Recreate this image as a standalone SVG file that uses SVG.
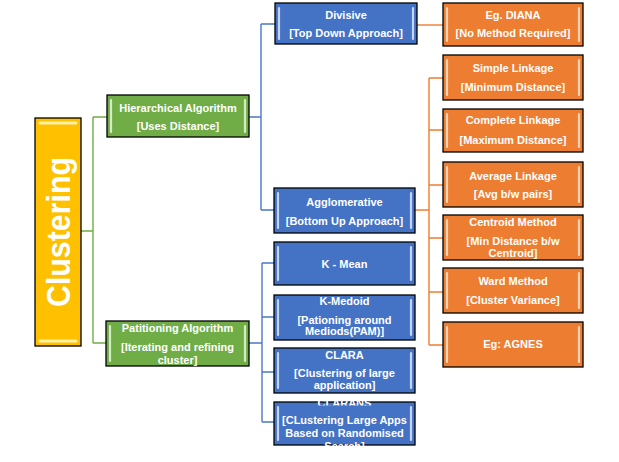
<svg xmlns="http://www.w3.org/2000/svg" width="619" height="462" viewBox="0 0 619 462">
<style>
.box{stroke:#000;stroke-width:1.3}
.blue{fill:#4472C4}
.orange{fill:#ED7D31}
.green{fill:#70AD47}
.gold{fill:#FFC000}
.hb{stroke:#C5D4F0;stroke-width:2.2;stroke-linecap:round;fill:none}
.ho{stroke:#FBD3B5;stroke-width:2.2;stroke-linecap:round;fill:none}
.hg{stroke:#D7EAC6;stroke-width:2.2;stroke-linecap:round;fill:none}
.hy{stroke:#FFF0A8;stroke-width:3;stroke-linecap:round;fill:none}
text{font-family:"Liberation Sans",Arial,sans-serif;font-weight:bold;font-size:11px;fill:#fff;text-anchor:middle}
.big{font-size:34px}
.cb{stroke:#4A78C8;stroke-width:1.4;fill:none}
.co{stroke:#ED7D31;stroke-width:1.4;fill:none}
.cg{stroke:#70AD47;stroke-width:1.4;fill:none}
</style>
<defs>
<clipPath id="clipS"><rect x="270" y="406" width="150" height="42"/></clipPath>
<clipPath id="clipT"><rect x="270" y="400" width="150" height="5.5"/></clipPath>
</defs>
<rect width="619" height="462" fill="#fff"/>
<g id="connectors">
<path class="cg" d="M81,231H93M93,117V343M93,117H107M93,343H106"/>
<path class="cb" d="M249,117H261M261,24V210M261,24H275M261,210H274"/>
<path class="cb" d="M249,343H262M262,263V422M262,263H274M262,317H274M262,372H274M262,422H274"/>
<path class="co" d="M417,25H443"/>
<path class="co" d="M415,210H429M429,78V345M429,78H443M429,130H443M429,185H443M429,238H443M429,292H443M429,345H443"/>
</g>
<g id="clustering">
<rect class="box gold" x="35" y="118" width="46" height="228"/>
<path class="hy" d="M40,123H76M40,341H76"/>
<text class="big" transform="translate(70,232) rotate(-90)" textLength="150" lengthAdjust="spacingAndGlyphs">Clustering</text>
</g>
<g id="hierarchical">
<rect class="box green" x="107" y="95" width="142" height="42"/>
<path class="hg" d="M111,100V132M245,100V132"/>
<text x="178" y="111.5">Hierarchical Algorithm</text>
<text x="178" y="129.5">[Uses Distance]</text>
</g>
<g id="partitioning">
<rect class="box green" x="106" y="321" width="143" height="45"/>
<path class="hg" d="M110,326V361M245,326V361"/>
<text x="177.5" y="331.5">Patitioning Algorithm</text>
<text x="177.5" y="350.5">[Iterating and refining</text>
<text x="177.5" y="363.5">cluster]</text>
</g>
<g id="divisive">
<rect class="box blue" x="275" y="3" width="142" height="41"/>
<path class="hb" d="M279,8V39M413,8V39"/>
<text x="346" y="18.5">Divisive</text>
<text x="346" y="36.5">[Top Down Approach]</text>
</g>
<g id="agglomerative">
<rect class="box blue" x="274" y="188" width="141" height="45"/>
<path class="hb" d="M278,193V228M411,193V228"/>
<text x="344.5" y="205.5">Agglomerative</text>
<text x="344.5" y="224.5">[Bottom Up Approach]</text>
</g>
<g id="kmean">
<rect class="box blue" x="274" y="242" width="141" height="43"/>
<path class="hb" d="M278,247V280M411,247V280"/>
<text x="344.5" y="267.5">K - Mean</text>
</g>
<g id="kmedoid">
<rect class="box blue" x="274" y="295" width="141" height="45"/>
<path class="hb" d="M278,300V335M411,300V335"/>
<text x="344.5" y="304.5">K-Medoid</text>
<text x="344.5" y="323.5">[Pationing around</text>
<text x="344.5" y="334.5">Mediods(PAM)]</text>
</g>
<g id="clara">
<rect class="box blue" x="274" y="348" width="141" height="45"/>
<path class="hb" d="M278,353V388M411,353V388"/>
<text x="344.5" y="358.5">CLARA</text>
<text x="344.5" y="376.5">[Clustering of large</text>
<text x="344.5" y="388.5">application]</text>
</g>
<g id="clarans">
<rect class="box blue" x="274" y="402" width="141" height="43"/>
<path class="hb" d="M278,407V440M411,407V440"/>
<text x="344.5" y="407" clip-path="url(#clipT)">CLARANS</text>
<g clip-path="url(#clipS)">
<text x="344.5" y="423.5">[CLustering Large Apps</text>
<text x="344.5" y="436.5">Based on Randomised</text>
<text x="344.5" y="449.5">Search]</text>
</g>
</g>
<g id="diana">
<rect class="box orange" x="443" y="3" width="140" height="43"/>
<path class="ho" d="M447,8V41M579,8V41"/>
<text x="513" y="18.5">Eg. DIANA</text>
<text x="513" y="36.5">[No Method Required]</text>
</g>
<g id="simple">
<rect class="box orange" x="443" y="55" width="140" height="45"/>
<path class="ho" d="M447,60V95M579,60V95"/>
<text x="513" y="71.5">Simple Linkage</text>
<text x="513" y="90.5">[Minimum Distance]</text>
</g>
<g id="complete">
<rect class="box orange" x="443" y="109" width="140" height="43"/>
<path class="ho" d="M447,114V147M579,114V147"/>
<text x="513" y="123.5">Complete Linkage</text>
<text x="513" y="143.5">[Maximum Distance]</text>
</g>
<g id="average">
<rect class="box orange" x="443" y="162" width="140" height="45"/>
<path class="ho" d="M447,167V202M579,167V202"/>
<text x="513" y="179.5">Average Linkage</text>
<text x="513" y="197.5">[Avg b/w pairs]</text>
</g>
<g id="centroid">
<rect class="box orange" x="443" y="215" width="140" height="45"/>
<path class="ho" d="M447,220V255M579,220V255"/>
<text x="513" y="225.5">Centroid Method</text>
<text x="513" y="244.5">[Min Distance b/w</text>
<text x="513" y="256.5">Centroid]</text>
</g>
<g id="ward">
<rect class="box orange" x="443" y="268" width="140" height="45"/>
<path class="ho" d="M447,273V308M579,273V308"/>
<text x="513" y="284.5">Ward Method</text>
<text x="513" y="303.5">[Cluster Variance]</text>
</g>
<g id="agnes">
<rect class="box orange" x="443" y="322" width="140" height="45"/>
<path class="ho" d="M447,327V362M579,327V362"/>
<text x="513" y="347.5">Eg: AGNES</text>
</g>
</svg>
